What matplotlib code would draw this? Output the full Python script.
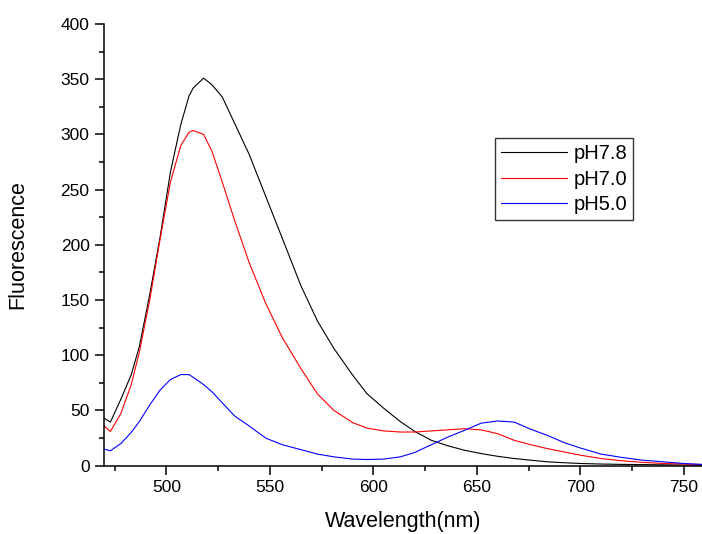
import matplotlib
matplotlib.use("Agg")
import matplotlib.pyplot as plt
from matplotlib.ticker import MultipleLocator

plt.rcParams['font.family'] = ['Liberation Sans', 'DejaVu Sans']

wavelength = [470, 473, 478, 483, 487, 492, 497, 502, 507, 511, 513, 518, 522,
              527, 533, 540, 548, 556, 565, 573, 581, 590, 597, 605, 613, 620,
              628, 636, 644, 652, 660, 668, 676, 684, 692, 700, 710, 720, 730,
              740, 750, 760]

ph78 = [43, 39.5, 60, 82, 108, 155, 207, 266, 309, 335, 342, 351, 345,
        334, 310, 282, 244, 206, 163, 131, 106, 82, 65, 52, 40, 31,
        23, 18, 14, 11, 8.5, 6.5, 5, 3.5, 2.7, 2, 1.5, 1.2, 1,
        0.8, 0.6, 0.5]

ph70 = [36, 31, 47, 73, 103, 150, 205, 257, 290, 302, 303.5, 300, 285,
        257, 222, 184, 147, 116, 88, 65, 50, 39, 34, 31.5, 30.5, 30.5,
        31.5, 32.5, 33.5, 32.5, 29, 23, 19, 15.5, 12.5, 9.5, 6.5, 4.5, 3,
        2, 1.5, 1]

ph50 = [15, 13.5, 20, 30, 40, 55, 68.5, 78, 82.5, 82.5, 80, 73.5, 67,
        57, 45, 36, 25, 19, 14.5, 10.5, 8, 6, 5.6, 6, 8, 12,
        19, 26, 32, 38.5, 40.5, 39.5, 33, 27.5, 21, 16, 10.5, 7.5, 5,
        3.5, 2, 1]

labels = ['pH7.8', 'pH7.0', 'pH5.0']
colors = ['black', 'red', 'blue']

fig = plt.figure(figsize=(7.02, 5.34), dpi=100)
ax = fig.add_axes([0.1484, 0.1279, 0.8516, 0.8272])

for y, lab, c in zip([ph78, ph70, ph50], labels, colors):
    ax.plot(wavelength, y, color=c, lw=0.8, label=lab)

ax.set_xlim(470, 758.7)
ax.set_ylim(0, 400)
ax.xaxis.set_major_locator(MultipleLocator(50))
ax.xaxis.set_minor_locator(MultipleLocator(25))
ax.yaxis.set_major_locator(MultipleLocator(50))
ax.yaxis.set_minor_locator(MultipleLocator(25))

for s in ['top', 'right']:
    ax.spines[s].set_visible(False)
for s in ['left', 'bottom']:
    ax.spines[s].set_linewidth(1.1)

ax.tick_params(which='major', direction='out', length=6.5, width=1.1,
               labelsize=12.5, pad=4)
ax.tick_params(which='minor', direction='out', length=3.6, width=1.1)

ax.set_xlabel('Wavelength(nm)', fontsize=15.5, labelpad=11)
ax.set_ylabel('Fluorescence', fontsize=15.5, labelpad=23)

leg = ax.legend(loc='upper right', bbox_to_anchor=(0.885, 0.742),
                fontsize=14.5, frameon=True, fancybox=False, shadow=False,
                edgecolor='black', handlelength=3.3, handletextpad=0.3,
                labelspacing=0.33, borderpad=0.3, borderaxespad=0)
leg.get_frame().set_linewidth(1.0)

fig.savefig('out.png', dpi=100)
